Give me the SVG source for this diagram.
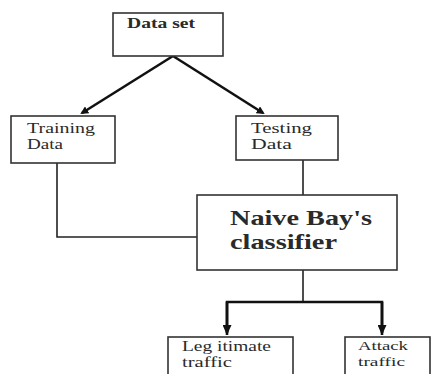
<svg xmlns="http://www.w3.org/2000/svg" width="436" height="374" viewBox="0 0 436 374">
<defs>
<style>
.box{fill:#fff;stroke:#333;stroke-width:1.6}
.t{font-family:"Liberation Serif","Times New Roman",serif;fill:#2a2a2a}
.c{fill:none;stroke:#222;stroke-width:1.6}
.a{fill:none;stroke:#111;stroke-width:2.6}
</style>
<marker id="ah" markerWidth="8" markerHeight="8" refX="6" refY="4" orient="auto" markerUnits="userSpaceOnUse">
<path d="M0,0 L8,4 L0,8 Z" fill="#111"/>
</marker>
<marker id="ah2" markerWidth="10" markerHeight="9" refX="8" refY="4.5" orient="auto" markerUnits="userSpaceOnUse">
<path d="M0,0 L10,4.5 L0,9 Z" fill="#111"/>
</marker>
</defs>
<rect width="436" height="374" fill="#fff"/>
<g id="connectors">
<path class="a" d="M173,56 L82,113" marker-end="url(#ah)"/>
<path class="a" d="M173,56 L263,113" marker-end="url(#ah)"/>
<path class="c" d="M57,163 L57,237 L198,237"/>
<path class="c" d="M303,195 L303,160"/>
<path class="c" d="M303,270 L303,302"/>
<path class="a" d="M227,335 L227,302 L382,302 L382,335" stroke-width="2.4"/>
<path class="a" d="M227,302 L227,333" marker-end="url(#ah2)"/>
<path class="a" d="M382,302 L382,333" marker-end="url(#ah2)"/>
</g>
<g id="dataset">
<rect class="box" x="113" y="13" width="110" height="43"/>
<text class="t" x="127" y="28" font-size="15" font-weight="bold" textLength="68" lengthAdjust="spacingAndGlyphs">Data set</text>
</g>
<g id="training">
<rect class="box" x="11" y="116" width="104" height="47"/>
<text class="t" x="27" y="133" font-size="15" textLength="68" lengthAdjust="spacingAndGlyphs">Training</text>
<text class="t" x="27" y="149" font-size="15" textLength="36" lengthAdjust="spacingAndGlyphs">Data</text>
</g>
<g id="testing">
<rect class="box" x="236" y="116" width="102" height="44"/>
<text class="t" x="251" y="133" font-size="15" textLength="61" lengthAdjust="spacingAndGlyphs">Testing</text>
<text class="t" x="251" y="149" font-size="15" textLength="41" lengthAdjust="spacingAndGlyphs">Data</text>
</g>
<g id="classifier">
<rect class="box" x="197" y="195" width="200" height="75"/>
<text class="t" x="230" y="225" font-size="22" font-weight="bold" fill="#111" textLength="142" lengthAdjust="spacingAndGlyphs">Naive Bay's</text>
<text class="t" x="230" y="249" font-size="22" font-weight="bold" fill="#111" textLength="107" lengthAdjust="spacingAndGlyphs">classifier</text>
</g>
<g id="legitimate">
<rect class="box" x="168" y="337" width="125" height="45"/>
<text class="t" x="182" y="351" font-size="14" textLength="89" lengthAdjust="spacingAndGlyphs">Leg itimate</text>
<text class="t" x="182" y="367" font-size="14" textLength="50" lengthAdjust="spacingAndGlyphs">traffic</text>
</g>
<g id="attack">
<rect class="box" x="345" y="337" width="85" height="45"/>
<text class="t" x="358" y="350" font-size="12" textLength="50" lengthAdjust="spacingAndGlyphs">Attack</text>
<text class="t" x="358" y="366" font-size="12" textLength="47" lengthAdjust="spacingAndGlyphs">traffic</text>
</g>
</svg>
